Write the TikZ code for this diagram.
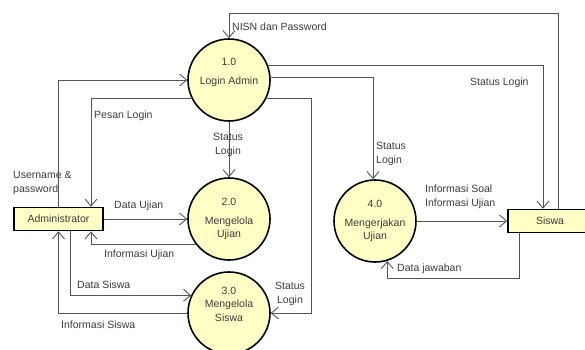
\documentclass[tikz,border=0pt]{standalone}
\usepackage{fontspec}
\setmainfont{Liberation Sans}
\usepackage{tikz}
\usetikzlibrary{arrows.meta,calc,positioning}
\definecolor{procfill}{RGB}{255,255,198}
\definecolor{flowgray}{RGB}{84,84,84}
\definecolor{textgray}{RGB}{60,60,60}

\begin{document}
\begin{tikzpicture}[x=1pt,y=-1pt,
  font=\fontsize{10.5}{13.5}\selectfont,
  proc/.style={circle, draw=black, line width=1.6pt, fill=procfill,
    minimum size=82pt, inner sep=0pt, align=center, text=textgray},
  ent/.style={rectangle, draw=black, line width=1.6pt, fill=procfill,
    minimum height=23pt, inner sep=0pt, text=textgray},
  flow/.style={-{Straight Barb[length=7pt,width=12pt]}, color=flowgray, line width=0.9pt},
  lbl/.style={inner sep=0pt, text=textgray, align=left}]

  \useasboundingbox (0,0) rectangle (585,349);

  % processes and entities
  \node[proc] (p1) at (229,80) {1.0\\[5pt]Login Admin\\\strut};
  \node[proc] (p2) at (229,219) {2.0\\[5pt]Mengelola\\Ujian};
  \node[proc] (p3) at (229,313) {3.0\\Mengelola\\Siswa\\[4pt]};
  \node[proc] (p4) at (375,221) {4.0\\[5pt]Mengerjakan\\Ujian};
  \node[ent, minimum width=89pt] (admin) at (58.5,219) {Administrator};
  \node[ent, minimum width=84pt] (siswa) at (550,221) {Siswa};

  % flows around 1.0
  \draw[flow] ($(siswa.north)+(8,0)$) -- ++(0,-195.5) -| (p1.north);
  \draw[flow] (p1.20) -| ($(siswa.north)+(-7,0)$);
  \draw[flow] (p1.3) -| ($(p4.north)+(-2,0)$);
  \draw[flow] (p1.-26) -| ($(p3.east)+(41,0)$) -- (p3.east);
  \draw[flow] (p1.206) -| ($(admin.north)+(32.5,0)$);
  \draw[flow] (admin.north) |- (p1.west);
  \draw[flow] (p1.south) -- (p2.north);

  % flows around 2.0 and 3.0
  \draw[flow] (admin.east) -- (p2.west);
  \draw[flow] (p2.218) -| ($(admin.south)+(32.5,0)$);
  \draw[flow] ($(admin.south)+(11.5,0)$) |- (p3.155);
  \draw[flow] (p3.west) -| (admin.south);

  % flows around 4.0
  \draw[flow] (p4.east) -- (siswa.west);
  \draw[flow] ($(siswa.south)+(-31,0)$) -- ++(0,45.5) -| (p4.-73);

  % flow labels
  \node[lbl, anchor=west] (lnisn) at (232,27) {NISN dan Password};
  \node[lbl, anchor=west] (lstat1) at (470,83) {Status Login};
  \node[lbl, anchor=west] (lstat4) at (376,154) {Status\\Login};
  \node[lbl, align=center] (lstat3) at (290,294) {Status\\Login};
  \node[lbl, align=center] (lstat2) at (228,145) {Status\\Login};
  \node[lbl, anchor=west] (lpesan) at (94,116) {Pesan Login};
  \node[lbl, anchor=west] (luser) at (13,183) {Username \&\\password};
  \node[lbl, anchor=west] (ldujian) at (114,206) {Data Ujian};
  \node[lbl, anchor=west] (liujian) at (104,255) {Informasi Ujian};
  \node[lbl, anchor=west] (ldsiswa) at (77,285) {Data Siswa};
  \node[lbl, anchor=west] (lisiswa) at (61,325) {Informasi Siswa};
  \node[lbl, anchor=west] (lsoal) at (425,197) {Informasi Soal\\Informasi Ujian};
  \node[lbl, anchor=west] (ljawab) at (397,269) {Data jawaban};
\end{tikzpicture}
\end{document}
